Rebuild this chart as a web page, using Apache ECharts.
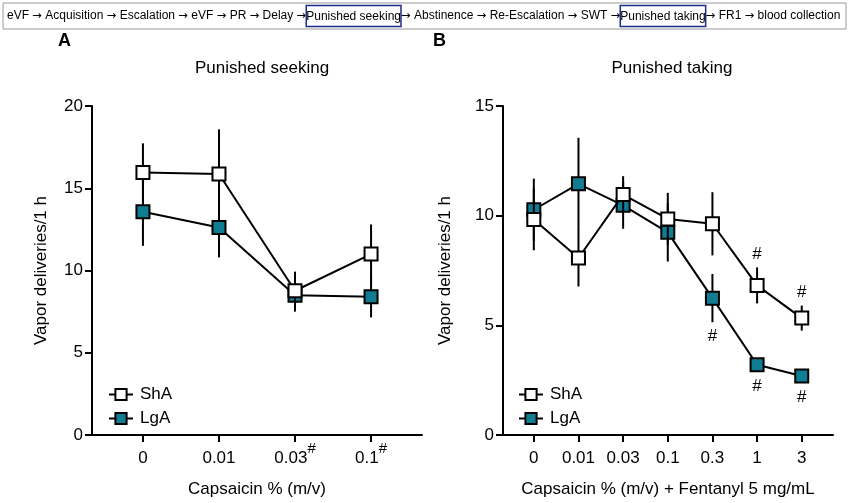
<!DOCTYPE html>
<html>
<head>
<meta charset="utf-8">
<script src="https://cdn.jsdelivr.net/npm/echarts@6/dist/echarts.min.js"></script>
<style>
  html, body { margin: 0; padding: 0; background: #fff; }
  #chart { width: 849px; height: 503px; }
</style>
</head>
<body>
<div id="chart"></div>
<script>
const FONT = '"Liberation Sans", Arial, sans-serif';
const TEAL = '#107d92';

// panel A: punished seeking
const tickLabelsA = ['0', '0.01', '0.03#', '0.1#'];
const shaMeanA = [15.95, 15.87, 8.77, 11.0];
const shaSemA = [1.78, 2.71, 1.16, 1.8];
const lgaMeanA = [13.57, 12.62, 8.5, 8.4];
const lgaSemA = [2.07, 1.82, 1.0, 1.25];

// panel B: punished taking
const tickLabelsB = ['0', '0.01', '0.03', '0.1', '0.3', '1', '3'];
const shaMeanB = [9.82, 8.07, 10.96, 9.85, 9.63, 6.82, 5.33];
const shaSemB = [1.4, 1.3, 0.84, 1.19, 1.44, 0.82, 0.57];
const lgaMeanB = [10.27, 11.45, 10.47, 9.24, 6.24, 3.2, 2.69];
const lgaSemB = [1.42, 2.1, 1.07, 1.33, 1.1, 0.2, 0.2];
const sigShaB = [5, 6];
const sigLgaB = [4, 5, 6];

// timeline header; 'a' = arrow, 'b' = boxed step
const headerParts = [
  ['n', 'eVF '], ['a', '→'], ['n', ' Acquisition '], ['a', '→'], ['n', ' Escalation '], ['a', '→'],
  ['n', ' eVF '], ['a', '→'], ['n', ' PR '], ['a', '→'], ['n', ' Delay '], ['a', '→'],
  ['b', 'Punished seeking'],
  ['a', '→'], ['n', ' Abstinence '], ['a', '→'], ['n', ' Re-Escalation '], ['a', '→'], ['n', ' SWT '], ['a', '→'],
  ['b', 'Punished taking'],
  ['a', '→'], ['n', ' FR1 '], ['a', '→'], ['n', ' blood collection']
];

const idx = arr => arr.map((_, i) => i);
const pts = (mean, sem) => mean.map((m, i) => [i, m, sem[i]]);

function errorBars(name, gi, mean, sem, z) {
  return {
    name: name, type: 'custom', xAxisIndex: gi, yAxisIndex: gi, z: z,
    silent: true, encode: {x: 0, y: 1},
    data: pts(mean, sem),
    renderItem: (params, api) => {
      const x = api.value(0), m = api.value(1), s = api.value(2);
      const p1 = api.coord([x, m + s]), p2 = api.coord([x, m - s]);
      return {type: 'line', shape: {x1: p1[0], y1: p1[1], x2: p2[0], y2: p2[1]},
        style: {stroke: '#000', lineWidth: 2}};
    }
  };
}

function lineSeries(name, gi, mean, fill, z) {
  return {
    name: name, type: 'line', xAxisIndex: gi, yAxisIndex: gi, z: z,
    data: mean.map((m, i) => [i, m]),
    symbol: 'rect', symbolSize: 13,
    itemStyle: {color: fill, borderColor: '#000', borderWidth: 2},
    lineStyle: {color: '#000', width: 2},
    emphasis: {disabled: true}
  };
}

function hashMarks(gi, mean, sem, sig, above) {
  return {
    type: 'custom', xAxisIndex: gi, yAxisIndex: gi, z: 10, silent: true,
    encode: {x: 0, y: 1},
    data: sig.map(i => [i, mean[i], sem[i]]),
    renderItem: (params, api) => {
      const x = api.value(0), m = api.value(1), s = api.value(2);
      const c = api.coord([x, m]);
      const e = api.coord([x, above ? m + s : m - s]);
      const y = above ? Math.min(e[1], c[1] - 7) - 13 : Math.max(e[1], c[1] + 7) + 14;
      return {type: 'text', x: c[0], y: y,
        style: {text: '#', fill: '#000', font: '17px ' + FONT, align: 'center', verticalAlign: 'middle'}};
    }
  };
}

function xAxis(gi, labels, min, max, name) {
  return {
    type: 'value', gridIndex: gi, min: min, max: max,
    name: name, nameLocation: 'middle', nameGap: 46,
    nameTextStyle: {fontFamily: FONT, fontSize: 17, color: '#000'},
    axisLine: {onZero: false, lineStyle: {color: '#000', width: 2}},
    axisTick: {customValues: idx(labels), length: 7, lineStyle: {color: '#000', width: 2}},
    axisLabel: {
      customValues: idx(labels), margin: 6, color: '#000', fontFamily: FONT, fontSize: 17,
      formatter: v => {
        const t = labels[Math.round(v)] || '';
        return t.endsWith('#') ? '{d|' + t.slice(0, -1) + '}{sup|#}' : '{d|' + t + '}';
      },
      rich: {
        d: {fontSize: 17, fontFamily: FONT, color: '#000', lineHeight: 34},
        sup: {fontSize: 15, fontFamily: FONT, color: '#000', padding: [0, 0, 19, 0]}
      }
    },
    splitLine: {show: false}
  };
}

function yAxis(gi, max, gap) {
  return {
    type: 'value', gridIndex: gi, min: 0, max: max, interval: 5,
    name: 'Vapor deliveries/1 h', nameLocation: 'middle', nameGap: gap,
    nameTextStyle: {fontFamily: FONT, fontSize: 17, color: '#000'},
    axisLine: {show: true, onZero: false, lineStyle: {color: '#000', width: 2}},
    axisTick: {show: true, length: 7, lineStyle: {color: '#000', width: 2}},
    axisLabel: {color: '#000', fontFamily: FONT, fontSize: 17, margin: 9},
    splitLine: {show: false}
  };
}

function legend(left, names) {
  return {
    left: left, top: 381, orient: 'vertical', itemGap: 7,
    itemWidth: 24, itemHeight: 14,
    data: names,
    textStyle: {fontFamily: FONT, fontSize: 17, color: '#000', padding: [0, 0, 0, 2]}
  };
}

const chart = echarts.init(document.getElementById('chart'), null, {renderer: 'canvas'});
chart.setOption({
  animation: false,
  backgroundColor: '#fff',
  title: [
    {text: 'Punished seeking', left: 257, top: 55, textAlign: 'center',
      textStyle: {fontFamily: FONT, fontSize: 17, fontWeight: 'normal', color: '#000'}},
    {text: 'Punished taking', left: 667, top: 55, textAlign: 'center',
      textStyle: {fontFamily: FONT, fontSize: 17, fontWeight: 'normal', color: '#000'}}
  ],
  grid: [
    {left: 92, right: 427, top: 106, bottom: 68},
    {left: 503, right: 16, top: 106, bottom: 68}
  ],
  xAxis: [
    xAxis(0, tickLabelsA, -0.67, 3.67, 'Capsaicin % (m/v)'),
    xAxis(1, tickLabelsB, -0.69, 6.7, 'Capsaicin % (m/v) + Fentanyl 5 mg/mL')
  ],
  yAxis: [yAxis(0, 20, 42), yAxis(1, 15, 49)],
  legend: [legend(103, ['ShA', 'LgA']), legend(513, ['ShA ', 'LgA '])],
  series: [
    errorBars('eLgA', 0, lgaMeanA, lgaSemA, 2),
    lineSeries('LgA', 0, lgaMeanA, TEAL, 3),
    errorBars('eShA', 0, shaMeanA, shaSemA, 4),
    lineSeries('ShA', 0, shaMeanA, '#fff', 5),
    errorBars('eLgAB', 1, lgaMeanB, lgaSemB, 2),
    lineSeries('LgA ', 1, lgaMeanB, TEAL, 3),
    errorBars('eShAB', 1, shaMeanB, shaSemB, 4),
    lineSeries('ShA ', 1, shaMeanB, '#fff', 5),
    hashMarks(1, shaMeanB, shaSemB, sigShaB, true),
    hashMarks(1, lgaMeanB, lgaSemB, sigLgaB, false)
  ],
  graphic: [
    {type: 'rect', shape: {x: 3, y: 3, width: 843, height: 26},
      style: {fill: '#fff', stroke: '#999', lineWidth: 1}},
    {type: 'text', x: 7, y: 16,
      style: {
        text: headerParts.map(p => '{' + p[0] + '|' + p[1] + '}').join(''),
        verticalAlign: 'middle',
        rich: {
          n: {fontFamily: FONT, fontSize: 12, fill: '#000'},
          a: {fontFamily: '"DejaVu Sans", sans-serif', fontSize: 11.5, fill: '#000'},
          b: {fontFamily: FONT, fontSize: 12, fill: '#000', borderColor: '#1f2a8a',
            borderWidth: 1.5, padding: [5, 0, 4, 0]}
        }
      }},
    {type: 'text', x: 58, y: 32, style: {text: 'A', font: 'bold 18px ' + FONT, fill: '#000'}},
    {type: 'text', x: 433, y: 32, style: {text: 'B', font: 'bold 18px ' + FONT, fill: '#000'}}
  ]
});
</script>
</body>
</html>
